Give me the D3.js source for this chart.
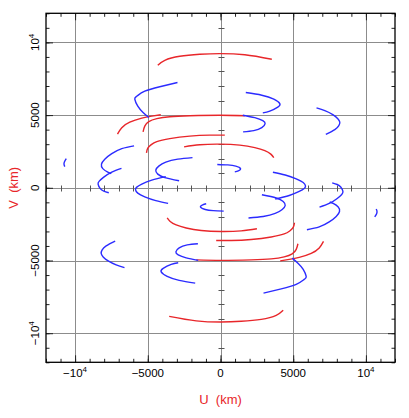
<!DOCTYPE html>
<html>
<head>
<meta charset="utf-8">
<script src="https://cdn.jsdelivr.net/npm/d3@7"></script>
<style>
  body { margin: 0; background: #fff; }
  text { font-family: "Liberation Sans", Arial, sans-serif; }
</style>
</head>
<body>
<div id="chart"></div>
<script>
// UV tracks in km (one half; the other half is the conjugate -u,-v)
var redTracks = [
    [[-4312, 8427], [-3831, 8770], [-2799, 9045], [-1424, 9182], [-48, 9230], [1671, 9148], [3529, 8839]],
    [[-7084, 3688], [-6789, 4135], [-6238, 4512], [-5413, 4787], [-4725, 4925], [-4106, 5027]],
    [[-5324, 3846], [-5207, 4238], [-4931, 4547], [-4381, 4753], [-3487, 4890], [-2112, 4959], [-48, 4993], [1671, 4959]],
    [[-5090, 2404], [-5000, 2727], [-4760, 2967], [-4381, 3173], [-3487, 3379], [-2112, 3551], [-736, 3619], [296, 3619]],
    [[-2504, 2816], [-1424, 2960], [-48, 3001], [1327, 2933], [2359, 2761], [3047, 2555], [3460, 2315], [3666, 2074]]
];

var blueTracks = [
    [[-2958, 7239], [-4176, 6950], [-5207, 6641], [-5757, 6298], [-5895, 6092], [-5688, 5611], [-5344, 5199], [-4931, 4835]],
    [[1740, 6552], [2841, 6367], [3666, 6092], [4079, 5783], [3941, 5543], [3391, 5268], [2909, 5151]],
    [[1534, 4993], [2359, 4821], [2909, 4615], [3068, 4409], [2841, 4135], [2290, 3928], [1554, 3846]],
    [[6603, 5494], [7174, 5302], [7724, 5027], [8068, 4753], [8205, 4512], [8137, 4272], [7862, 3997], [7243, 3668]],
    [[-5943, 2885], [-6789, 2692], [-7476, 2349], [-7958, 1971], [-8185, 1628], [-8095, 1319], [-7752, 1078], [-7511, 975]],
    [[-6809, 1332], [-7476, 1078], [-8027, 735], [-8336, 460], [-8419, 254], [-8267, -55], [-8027, -227], [-7683, -343]],
    [[-1926, 2074], [-2937, 1971], [-3762, 1765], [-4244, 1490], [-4450, 1216], [-4313, 941], [-3831, 701], [-2847, 481]],
    [[-3762, 769], [-4725, 529], [-5413, 254], [-5757, 48], [-5846, -124], [-5688, -364], [-5207, -618], [-4450, -879], [-3604, -1071]],
    [[-220, 1607], [502, 1573], [1052, 1490], [1376, 1319], [1224, 1168], [984, 1099]],
    [[-10606, 2005], [-10743, 1765], [-10757, 1593], [-10709, 1456]]
];

var majorTicks = [-10000, -5000, 0, 5000, 10000];
var tickLabels = ["\u221210^4", "\u22125000", "0", "5000", "10^4"];
var minorTicks = d3.range(-12000, 12001, 1000);

var w = 409, h = 418;
var plotL = 46, plotR = 395, plotT = 13.3, plotB = 362.3;

var svg = d3.select("#chart").append("svg")
    .attr("width", w)
    .attr("height", h);

var x = d3.scaleLinear().domain([-12000, 12000]).range([plotL, plotR]);
var y = d3.scaleLinear().domain([-12000, 12000]).range([plotB, plotT]);

// grid lines at major ticks
var grid = svg.append("g").attr("stroke", "#8c8c8c").attr("stroke-width", 1);
majorTicks.forEach(function(t) {
    grid.append("line").attr("x1", Math.round(x(t)) + 0.5).attr("x2", Math.round(x(t)) + 0.5)
        .attr("y1", plotT).attr("y2", plotB);
    grid.append("line").attr("y1", Math.round(y(t)) + 0.5).attr("y2", Math.round(y(t)) + 0.5)
        .attr("x1", plotL).attr("x2", plotR);
});

// little ticks across the zero lines
var zt = svg.append("g").attr("stroke", "#555").attr("stroke-width", 1);
minorTicks.forEach(function(t) {
    if (t % 5000 === 0) return;
    var len = 3;
    zt.append("line").attr("x1", Math.round(x(0)) + 0.5 - len).attr("x2", Math.round(x(0)) + 0.5 + len)
        .attr("y1", Math.round(y(t)) + 0.5).attr("y2", Math.round(y(t)) + 0.5);
    zt.append("line").attr("y1", Math.round(y(0)) + 0.5 - len).attr("y2", Math.round(y(0)) + 0.5 + len)
        .attr("x1", Math.round(x(t)) + 0.5).attr("x2", Math.round(x(t)) + 0.5);
});

// tracks
var line = d3.line()
    .x(function(d) { return x(d[0]); })
    .y(function(d) { return y(d[1]); })
    .curve(d3.curveNatural);

function drawTracks(tracks, colour) {
    var all = [];
    tracks.forEach(function(t) {
        all.push(t);
        all.push(t.map(function(p) { return [-p[0], -p[1]]; }));
    });
    svg.append("g").selectAll("path")
        .data(all)
        .enter()
        .append("path")
        .attr("d", line)
        .attr("fill", "none")
        .attr("stroke", colour)
        .attr("stroke-width", 1.4);
}
drawTracks(redTracks, "#e8262a");
drawTracks(blueTracks, "#2b2bff");

// inward ticks on all four sides
function ticks(axis, tr) {
    var g = svg.append("g").attr("transform", tr).call(axis);
    g.select(".domain").remove();
    g.selectAll("text").remove();
    g.selectAll("line").attr("stroke", "#222");
}
[[minorTicks, 3.5], [majorTicks, 7]].forEach(function(s) {
    ticks(d3.axisBottom(x).tickValues(s[0]).tickSize(-s[1]), "translate(0," + plotB + ")");
    ticks(d3.axisTop(x).tickValues(s[0]).tickSize(-s[1]), "translate(0," + plotT + ")");
    ticks(d3.axisLeft(y).tickValues(s[0]).tickSize(-s[1]), "translate(" + plotL + ",0)");
    ticks(d3.axisRight(y).tickValues(s[0]).tickSize(-s[1]), "translate(" + plotR + ",0)");
});

// frame
svg.append("rect")
    .attr("x", plotL).attr("y", plotT)
    .attr("width", plotR - plotL).attr("height", plotB - plotT)
    .attr("fill", "none").attr("stroke", "#000").attr("stroke-width", 1.3);

// tick labels
function label(sel, s) {
    var parts = s.split("^");
    sel.text(parts[0]);
    if (parts[1]) {
        sel.append("tspan").attr("dy", -5).attr("font-size", "8px").text(parts[1]);
    }
}
majorTicks.forEach(function(t, i) {
    var tx = svg.append("text")
        .attr("x", x(t)).attr("y", 377)
        .attr("text-anchor", "middle")
        .attr("font-size", "11.5px")
        .attr("fill", "#000");
    label(tx, tickLabels[i]);
    var ty = svg.append("text")
        .attr("transform", "translate(39," + y(t) + ") rotate(-90)")
        .attr("text-anchor", "middle")
        .attr("font-size", "11.5px")
        .attr("fill", "#000");
    label(ty, tickLabels[i]);
});

// axis titles
svg.append("text")
    .attr("x", x(0)).attr("y", 404)
    .attr("text-anchor", "middle")
    .attr("font-size", "13px")
    .attr("fill", "#e8262a")
    .attr("xml:space", "preserve")
    .text("U  (km)");

svg.append("text")
    .attr("transform", "translate(18," + y(0) + ") rotate(-90)")
    .attr("text-anchor", "middle")
    .attr("font-size", "13px")
    .attr("fill", "#e8262a")
    .attr("xml:space", "preserve")
    .text("V  (km)");
</script>
</body>
</html>
